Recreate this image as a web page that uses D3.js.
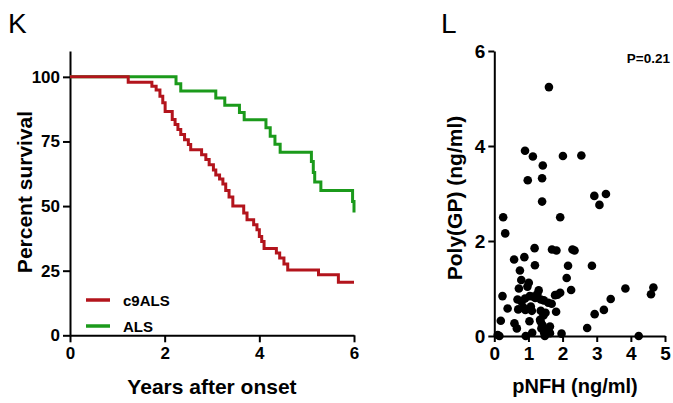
<!DOCTYPE html>
<html>
<head>
<meta charset="utf-8">
<script src="https://cdn.jsdelivr.net/npm/d3@7"></script>
<style>
  body { margin: 0; background: #fff; }
  svg { font-family: "Liberation Sans", Arial, sans-serif; }
  .axis path, .axis line { stroke: #000; stroke-width: 2; }
  .axis text { font-weight: bold; fill: #000; }
</style>
</head>
<body>
<svg id="fig" width="673" height="403"></svg>
<script>
// Kaplan-Meier steps (years, percent surviving)
const c9Times = [0, 1.23, 1.73, 1.82, 1.90, 1.96, 2.01, 2.16, 2.22, 2.28, 2.34, 2.42, 2.50, 2.55, 2.78, 2.87, 2.94, 3.03, 3.08, 3.16, 3.23, 3.29, 3.36, 3.44, 3.67, 3.74, 3.88, 3.95, 4.00, 4.05, 4.10, 4.36, 4.43, 4.52, 4.60, 5.25, 5.67, 6.0];
const c9Surv = [100, 97.9, 96.4, 94.9, 92.5, 90, 86.6, 83.5, 81.6, 79.6, 77.7, 75.7, 73.8, 71.8, 69.9, 68, 66, 64, 62, 60.5, 58.5, 56, 53.5, 50, 47.3, 44.7, 42.8, 40.8, 38.2, 36.3, 33.6, 31.8, 29.9, 27.6, 25.3, 23.4, 20.5, 20.5];
const alsTimes = [0, 2.24, 2.34, 3.08, 3.27, 3.58, 3.68, 4.14, 4.23, 4.33, 4.44, 5.10, 5.14, 5.17, 5.30, 5.97, 6.0];
const alsSurv = [100, 97.3, 94.5, 91.8, 89, 86.2, 83.4, 80.3, 77, 73.9, 70.8, 67.2, 63, 59.3, 56, 51.8, 47.5];

const survivalTicks = [0, 25, 50, 75, 100];
const yearTicks = [0, 2, 4, 6];
const legendLabels = ["c9ALS", "ALS"];

// pNFH vs Poly(GP), ng/ml
const pnfh = [1.60, 0.90, 1.13, 1.42, 2.01, 2.55, 0.98, 1.40, 1.40, 2.93, 3.27, 3.08, 0.26, 0.32, 1.93,
  1.18, 1.69, 1.82, 2.29, 2.35, 0.58, 0.88, 1.19, 2.16, 2.86, 0.75, 0.79, 1.01, 0.97, 0.72,
  1.30, 2.12, 2.25, 3.84, 4.66, 4.59, 3.41, 0.24, 0.39, 0.70, 0.91, 1.07, 1.81, 1.93, 1.78,
  1.85, 2.94, 3.21, 0.19, 0.59, 0.66, 1.03, 1.36, 1.41, 1.63, 2.72, 0.10, 0.15, 0.92, 1.11,
  1.46, 1.55, 1.63, 1.97, 4.23, 1.48, 0.68, 0.80, 0.90, 1.04, 1.14, 1.26, 1.36, 1.45, 1.58,
  1.68, 1.10, 1.36, 1.50, 1.44, 1.34, 1.38, 1.52, 1.20, 0.85];
const polyGP = [5.24, 3.90, 3.78, 3.59, 3.79, 3.80, 3.28, 3.32, 2.83, 2.95, 2.99, 2.76, 2.50, 2.16, 2.50,
  1.85, 1.82, 1.80, 1.82, 1.80, 1.61, 1.66, 1.49, 1.48, 1.48, 1.38, 1.18, 1.12, 1.04, 1.00,
  0.96, 1.22, 0.97, 1.00, 1.02, 0.88, 0.78, 0.84, 0.58, 0.56, 0.55, 0.62, 0.51, 0.91, 0.86,
  0.87, 0.46, 0.55, 0.32, 0.27, 0.16, 0.31, 0.30, 0.23, 0.20, 0.17, 0.02, 0.00, 0.00, 0.07,
  0.07, 0.09, 0.06, 0.05, 0.00, 0.00, 0.77, 0.72, 0.79, 0.84, 0.83, 0.88, 0.77, 0.75, 0.70,
  0.68, 0.53, 0.53, 0.49, 0.43, 0.34, 0.16, 0.14, 0.80, 0.60];
const gpTicks = [0, 2, 4, 6];
const nfhTicks = [0, 1, 2, 3, 4, 5];
const pLabel = "P=0.21";

const red = "#b3141c", green = "#1b9a1b";
const fmt = d3.format("d");
const svg = d3.select("#fig");

// ---------- panel K ----------
const xK = d3.scaleLinear().domain([0, 6]).range([70, 354]);
const yK = d3.scaleLinear().domain([0, 110]).range([335.3, 51]);

svg.append("text").attr("x", 8).attr("y", 33).attr("font-size", 28).text("K");

svg.append("g").attr("class", "axis")
    .attr("transform", "translate(70,0)")
    .call(d3.axisLeft(yK).tickValues(survivalTicks).tickFormat(fmt).tickSize(7).tickPadding(3).tickSizeOuter(0))
    .selectAll("text").attr("font-size", 17);

svg.append("g").attr("class", "axis")
    .attr("transform", "translate(0,335.3)")
    .call(d3.axisBottom(xK).tickValues(yearTicks).tickFormat(fmt).tickSize(7).tickPadding(5).tickSizeOuter(0))
    .selectAll("text").attr("font-size", 17);

const line = d3.line()
    .x(d => xK(d[0]))
    .y(d => yK(d[1]))
    .curve(d3.curveStepAfter);

const curves = [
  {pts: d3.zip(alsTimes, alsSurv), color: green},
  {pts: d3.zip(c9Times, c9Surv), color: red}
];
svg.selectAll(".km")
  .data(curves)
  .join("path")
    .attr("class", "km")
    .attr("fill", "none")
    .attr("stroke", d => d.color)
    .attr("stroke-width", 3)
    .attr("d", d => line(d.pts));

const legend = svg.append("g");
legendLabels.forEach((lab, i) => {
  const y = 300 + i * 26;
  legend.append("line")
      .attr("x1", 86).attr("x2", 110).attr("y1", y).attr("y2", y)
      .attr("stroke", i === 0 ? red : green).attr("stroke-width", 3.5);
  legend.append("text")
      .attr("x", 123).attr("y", y + 5.5)
      .attr("font-size", 15).attr("font-weight", "bold")
      .text(lab);
});

svg.append("text")
    .attr("x", 212).attr("y", 394)
    .attr("text-anchor", "middle")
    .attr("font-size", 21).attr("font-weight", "bold")
    .text("Years after onset");

svg.append("text")
    .attr("transform", "translate(32,192) rotate(-90)")
    .attr("text-anchor", "middle")
    .attr("font-size", 21).attr("font-weight", "bold")
    .text("Percent survival");

// ---------- panel L ----------
const xL = d3.scaleLinear().domain([0, 5]).range([494.3, 665]);
const yL = d3.scaleLinear().domain([0, 6]).range([336, 51]);

svg.append("text").attr("x", 441).attr("y", 33).attr("font-size", 28).text("L");

svg.append("g").attr("class", "axis")
    .attr("transform", "translate(494.3,0)")
    .call(d3.axisLeft(yL).tickValues(gpTicks).tickFormat(fmt).tickSize(6).tickPadding(3).tickSizeOuter(0))
    .selectAll("text").attr("font-size", 19);

svg.append("g").attr("class", "axis")
    .attr("transform", "translate(0,336)")
    .call(d3.axisBottom(xL).tickValues(nfhTicks).tickFormat(fmt).tickSize(6).tickPadding(5).tickSizeOuter(0))
    .selectAll("text").attr("font-size", 19);

svg.selectAll(".dot")
  .data(d3.zip(pnfh, polyGP))
  .join("circle")
    .attr("class", "dot")
    .attr("cx", d => xL(d[0]))
    .attr("cy", d => yL(d[1]))
    .attr("r", 4.3)
    .attr("fill", "#000");

svg.append("text")
    .attr("x", 670).attr("y", 63)
    .attr("text-anchor", "end")
    .attr("font-size", 13.5).attr("font-weight", "bold")
    .text(pLabel);

svg.append("text")
    .attr("x", 575).attr("y", 393)
    .attr("text-anchor", "middle")
    .attr("font-size", 20).attr("font-weight", "bold")
    .text("pNFH (ng/ml)");

svg.append("text")
    .attr("transform", "translate(462,198) rotate(-90)")
    .attr("text-anchor", "middle")
    .attr("font-size", 21).attr("font-weight", "bold")
    .text("Poly(GP) (ng/ml)");
</script>
</body>
</html>
